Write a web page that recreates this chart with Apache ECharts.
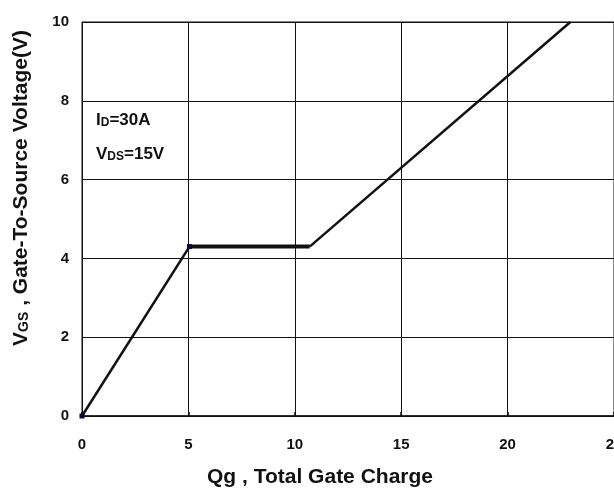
<!DOCTYPE html>
<html>
<head>
<meta charset="utf-8">
<script src="https://cdn.jsdelivr.net/npm/echarts@6/dist/echarts.min.js"></script>
<style>
  html, body { margin: 0; padding: 0; background: #fff; }
  #chart { width: 614px; height: 490px; }
</style>
</head>
<body>
<div id="chart"></div>
<script>
// Gate charge curve: Qg (nC) vs VGS (V)
const rampQg = [0, 5.05];
const rampVgs = [0, 4.3];
const plateauQg = [5.05, 10.7];
const plateauVgs = [4.3, 4.3];
const riseQg = [10.7, 22.95];
const riseVgs = [4.3, 10];
const xTicks = [0, 5, 10, 15, 20, 25];
const yTicks = [0, 2, 4, 6, 8, 10];

const pairs = (xs, ys) => xs.map((x, i) => [x, ys[i]]);
const font = '"Liberation Sans", Arial, sans-serif';
const ink = '#111';

const chart = echarts.init(document.getElementById('chart'));
chart.setOption({
  animation: false,
  grid: {
    left: 82, right: 0, top: 22, bottom: 74,
    containLabel: false, outerBoundsMode: 'none',
    show: true, borderColor: ink, borderWidth: 1
  },
  xAxis: {
    type: 'value', min: xTicks[0], max: xTicks[xTicks.length - 1], interval: 5,
    axisLine: { show: true, lineStyle: { color: ink, width: 1.5 } },
    axisTick: { show: true, inside: true, length: 4, lineStyle: { color: ink, width: 1.5 } },
    splitLine: { show: true, lineStyle: { color: ink, width: 1 } },
    axisLabel: { color: ink, fontFamily: font, fontWeight: 'bold', fontSize: 15, margin: 21 }
  },
  yAxis: {
    type: 'value', min: yTicks[0], max: yTicks[yTicks.length - 1], interval: 2,
    axisLine: { show: true, lineStyle: { color: ink, width: 1 } },
    axisTick: { show: false },
    splitLine: { show: true, lineStyle: { color: ink, width: 1 } },
    axisLabel: { color: ink, fontFamily: font, fontWeight: 'bold', fontSize: 15, margin: 13 }
  },
  graphic: [
    {
      // horizontal axis title
      type: 'text', x: 320, y: 477,
      style: {
        text: 'Qg , Total Gate Charge',
        align: 'center', verticalAlign: 'middle',
        fill: ink, font: 'bold 21px ' + font
      }
    },
    {
      // vertical axis title
      type: 'text', x: 21, y: 188, rotation: Math.PI / 2,
      style: {
        text: '{a|V}{s|GS}{a| , Gate-To-Source Voltage(V)}',
        align: 'center', verticalAlign: 'middle',
        rich: {
          a: { fill: ink, font: 'bold 21px ' + font },
          s: { fill: ink, font: 'bold 14px ' + font, padding: [6, 0, 0, 0] }
        }
      }
    },
    {
      type: 'text', left: 96, top: 112,
      style: {
        text: '{a|I}{s|D}{a|=30A}',
        rich: {
          a: { fill: ink, font: 'bold 17px ' + font },
          s: { fill: ink, font: 'bold 12px ' + font, padding: [4, 0, 0, 0] }
        }
      }
    },
    {
      type: 'text', left: 96, top: 146,
      style: {
        text: '{a|V}{s|DS}{a|=15V}',
        rich: {
          a: { fill: ink, font: 'bold 17px ' + font },
          s: { fill: ink, font: 'bold 12px ' + font, padding: [4, 0, 0, 0] }
        }
      }
    }
  ],
  series: [
    {
      type: 'line', data: pairs(rampQg, rampVgs),
      showSymbol: true, symbol: 'rect', symbolSize: 5,
      itemStyle: { color: '#0b0b3a' },
      lineStyle: { color: ink, width: 2.5 }
    },
    { type: 'line', data: pairs(plateauQg, plateauVgs), showSymbol: false, lineStyle: { color: ink, width: 4 } },
    { type: 'line', data: pairs(riseQg, riseVgs), showSymbol: false, lineStyle: { color: ink, width: 2.5 } }
  ]
});
</script>
</body>
</html>
